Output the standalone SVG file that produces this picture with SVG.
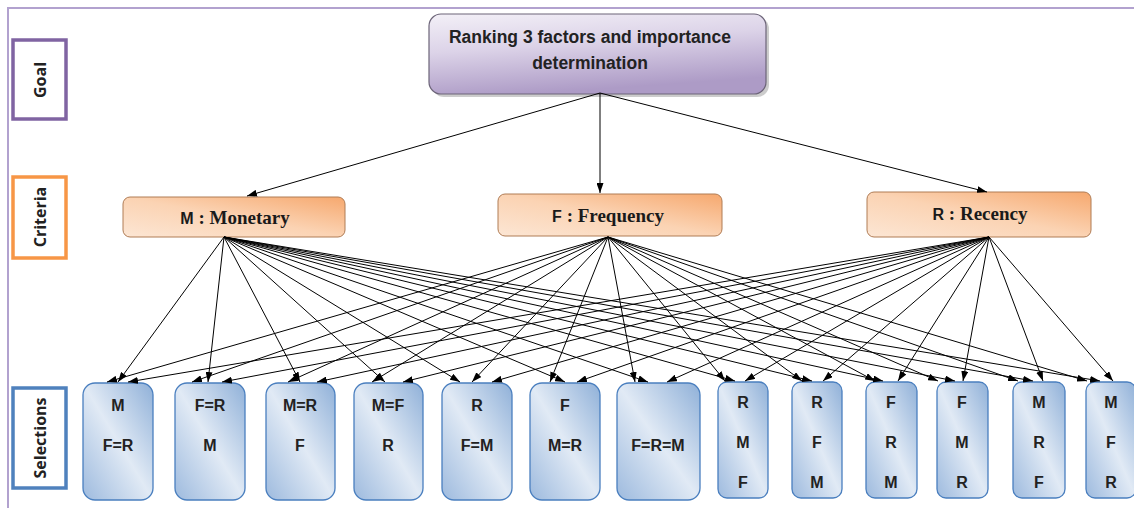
<svg xmlns="http://www.w3.org/2000/svg" width="1134" height="508" viewBox="0 0 1134 508">
<defs>
<linearGradient id="gGoal" x1="0" y1="0" x2="0.3" y2="1">
<stop offset="0" stop-color="#f3f0f7"/>
<stop offset="0.45" stop-color="#dcd3e8"/>
<stop offset="1" stop-color="#ad9bc6"/>
</linearGradient>
<linearGradient id="gCrit" x1="0" y1="1" x2="1" y2="0">
<stop offset="0" stop-color="#fce6d4"/>
<stop offset="0.5" stop-color="#fbd3b3"/>
<stop offset="1" stop-color="#f6a86e"/>
</linearGradient>
<linearGradient id="gSel" x1="1" y1="0" x2="0" y2="1">
<stop offset="0" stop-color="#8fb0d8"/>
<stop offset="0.5" stop-color="#e1eaf5"/>
<stop offset="1" stop-color="#9dbade"/>
</linearGradient>
<marker id="arr" viewBox="0 0 10 7" refX="10" refY="3.5" markerWidth="10" markerHeight="7" markerUnits="userSpaceOnUse" orient="auto">
<path d="M0,0 L10,3.5 L0,7 z" fill="#000"/>
</marker>
<style>
.frame{fill:none;stroke:#b2a2cf;stroke-width:2}
.lbl{fill:#fff;stroke-width:3.5}
.lbltxt{font-family:"Open Sans","Liberation Sans",sans-serif;font-weight:bold;font-size:16px;fill:#222;text-anchor:middle}
.goal{fill:url(#gGoal);stroke:#6c6478;stroke-width:1.2}
.crit{fill:url(#gCrit);stroke:#b07c55;stroke-width:1}
.crittxt{font-family:"Liberation Serif",serif;font-weight:bold;font-size:19px;fill:#1a1a1a;text-anchor:middle}
.sans{font-family:"Liberation Sans",sans-serif;font-size:16px}
.sel{fill:url(#gSel);stroke:#4a7fbf;stroke-width:1.3}
.seltxt{font-family:"Liberation Sans",sans-serif;font-weight:bold;font-size:16px;fill:#222;text-anchor:middle}
.goaltxt{font-family:"Liberation Sans",sans-serif;font-weight:bold;font-size:17.5px;fill:#222;text-anchor:middle}
.con line{stroke:#000;stroke-width:1;marker-end:url(#arr)}
</style>
</defs>
<rect x="0" y="0" width="1134" height="508" fill="#fff"/>
<path class="frame" d="M8,508 L8,8 L1134,8"/>

<g id="label-goal">
<rect class="lbl" x="13" y="40" width="53" height="79" stroke="#8064a2"/>
<text class="lbltxt" transform="translate(46,80) rotate(-90)">Goal</text>
</g>
<g id="label-criteria">
<rect class="lbl" x="13" y="177" width="53" height="81" stroke="#f79646"/>
<text class="lbltxt" transform="translate(46,217) rotate(-90)">Criteria</text>
</g>
<g id="label-selections">
<rect class="lbl" x="13" y="388" width="53" height="100" stroke="#4f81bd"/>
<text class="lbltxt" transform="translate(46,438) rotate(-90)">Selections</text>
</g>

<g id="goal">
<rect x="432" y="17" width="337" height="80" rx="12" fill="#9a9a9a" opacity="0.5"/>
<rect class="goal" x="429" y="14" width="337" height="80" rx="12"/>
<text class="goaltxt" x="590" y="43">Ranking 3 factors and importance</text>
<text class="goaltxt" x="590" y="69">determination</text>
</g>

<g id="crit-M">
<rect class="crit" x="123" y="197" width="222" height="40" rx="7"/>
<text class="crittxt" x="235" y="224"><tspan class="sans">M</tspan>  : Monetary</text>
</g>
<g id="crit-F">
<rect class="crit" x="498" y="194" width="224" height="42" rx="7"/>
<text class="crittxt" x="608" y="222"><tspan class="sans">F</tspan> : Frequency</text>
</g>
<g id="crit-R">
<rect class="crit" x="867" y="192" width="224" height="45" rx="7"/>
<text class="crittxt" x="980" y="220"><tspan class="sans">R</tspan> : Recency</text>
</g>

<g id="sel-1"><rect class="sel" x="83" y="383" width="70" height="117" rx="12"/>
<text class="seltxt" x="118" y="411">M</text><text class="seltxt" x="118" y="451">F=R</text></g>
<g id="sel-2"><rect class="sel" x="175" y="383" width="70" height="117" rx="12"/>
<text class="seltxt" x="210" y="411">F=R</text><text class="seltxt" x="210" y="451">M</text></g>
<g id="sel-3"><rect class="sel" x="266" y="383" width="69" height="117" rx="12"/>
<text class="seltxt" x="300" y="411">M=R</text><text class="seltxt" x="300" y="451">F</text></g>
<g id="sel-4"><rect class="sel" x="354" y="383" width="69" height="117" rx="12"/>
<text class="seltxt" x="388" y="411">M=F</text><text class="seltxt" x="388" y="451">R</text></g>
<g id="sel-5"><rect class="sel" x="442" y="383" width="70" height="117" rx="12"/>
<text class="seltxt" x="477" y="411">R</text><text class="seltxt" x="477" y="451">F=M</text></g>
<g id="sel-6"><rect class="sel" x="530" y="383" width="70" height="117" rx="12"/>
<text class="seltxt" x="565" y="411">F</text><text class="seltxt" x="565" y="451">M=R</text></g>
<g id="sel-7"><rect class="sel" x="617" y="383" width="83" height="117" rx="12"/>
<text class="seltxt" x="658" y="451">F=R=M</text></g>
<g id="sel-8"><rect class="sel" x="718" y="382" width="50" height="116" rx="9"/>
<text class="seltxt" x="743" y="408">R</text><text class="seltxt" x="743" y="448">M</text><text class="seltxt" x="743" y="488">F</text></g>
<g id="sel-9"><rect class="sel" x="792" y="382" width="50" height="116" rx="9"/>
<text class="seltxt" x="817" y="408">R</text><text class="seltxt" x="817" y="448">F</text><text class="seltxt" x="817" y="488">M</text></g>
<g id="sel-10"><rect class="sel" x="866" y="382" width="51" height="116" rx="9"/>
<text class="seltxt" x="891" y="408">F</text><text class="seltxt" x="891" y="448">R</text><text class="seltxt" x="891" y="488">M</text></g>
<g id="sel-11"><rect class="sel" x="937" y="382" width="51" height="116" rx="9"/>
<text class="seltxt" x="962" y="408">F</text><text class="seltxt" x="962" y="448">M</text><text class="seltxt" x="962" y="488">R</text></g>
<g id="sel-12"><rect class="sel" x="1013" y="382" width="52" height="116" rx="9"/>
<text class="seltxt" x="1039" y="408">M</text><text class="seltxt" x="1039" y="448">R</text><text class="seltxt" x="1039" y="488">F</text></g>
<g id="sel-13"><rect class="sel" x="1086" y="382" width="50" height="116" rx="9"/>
<text class="seltxt" x="1111" y="408">M</text><text class="seltxt" x="1111" y="448">F</text><text class="seltxt" x="1111" y="488">R</text></g>

<g id="connectors" class="con">
<line x1="600" y1="93" x2="247" y2="196"/>
<line x1="600" y1="93" x2="600" y2="193"/>
<line x1="600" y1="93" x2="987" y2="192"/>

<line x1="608" y1="237" x2="107" y2="382"/>
<line x1="224" y1="237" x2="118" y2="382"/>
<line x1="989" y1="237" x2="128" y2="382"/>
<line x1="608" y1="237" x2="192" y2="382"/>
<line x1="224" y1="237" x2="208" y2="382"/>
<line x1="989" y1="237" x2="222" y2="382"/>
<line x1="608" y1="237" x2="288" y2="382"/>
<line x1="224" y1="237" x2="300" y2="382"/>
<line x1="989" y1="237" x2="317" y2="382"/>
<line x1="608" y1="237" x2="372" y2="382"/>
<line x1="224" y1="237" x2="385" y2="382"/>
<line x1="989" y1="237" x2="403" y2="382"/>
<line x1="608" y1="237" x2="472" y2="382"/>
<line x1="224" y1="237" x2="460" y2="382"/>
<line x1="989" y1="237" x2="492" y2="382"/>
<line x1="608" y1="237" x2="550" y2="382"/>
<line x1="224" y1="237" x2="565" y2="382"/>
<line x1="989" y1="237" x2="577" y2="382"/>
<line x1="608" y1="237" x2="635" y2="382"/>
<line x1="224" y1="237" x2="648" y2="382"/>
<line x1="989" y1="237" x2="667" y2="382"/>
<line x1="608" y1="237" x2="725" y2="381"/>
<line x1="224" y1="237" x2="735" y2="381"/>
<line x1="989" y1="237" x2="745" y2="381"/>
<line x1="608" y1="237" x2="802" y2="381"/>
<line x1="224" y1="237" x2="812" y2="381"/>
<line x1="989" y1="237" x2="823" y2="381"/>
<line x1="608" y1="237" x2="875" y2="381"/>
<line x1="224" y1="237" x2="883" y2="381"/>
<line x1="989" y1="237" x2="898" y2="381"/>
<line x1="608" y1="237" x2="938" y2="381"/>
<line x1="224" y1="237" x2="955" y2="381"/>
<line x1="989" y1="237" x2="963" y2="381"/>
<line x1="608" y1="237" x2="1018" y2="381"/>
<line x1="224" y1="237" x2="1033" y2="381"/>
<line x1="989" y1="237" x2="1043" y2="381"/>
<line x1="608" y1="237" x2="1087" y2="381"/>
<line x1="224" y1="237" x2="1100" y2="381"/>
<line x1="989" y1="237" x2="1113" y2="381"/>
</g>
</svg>
